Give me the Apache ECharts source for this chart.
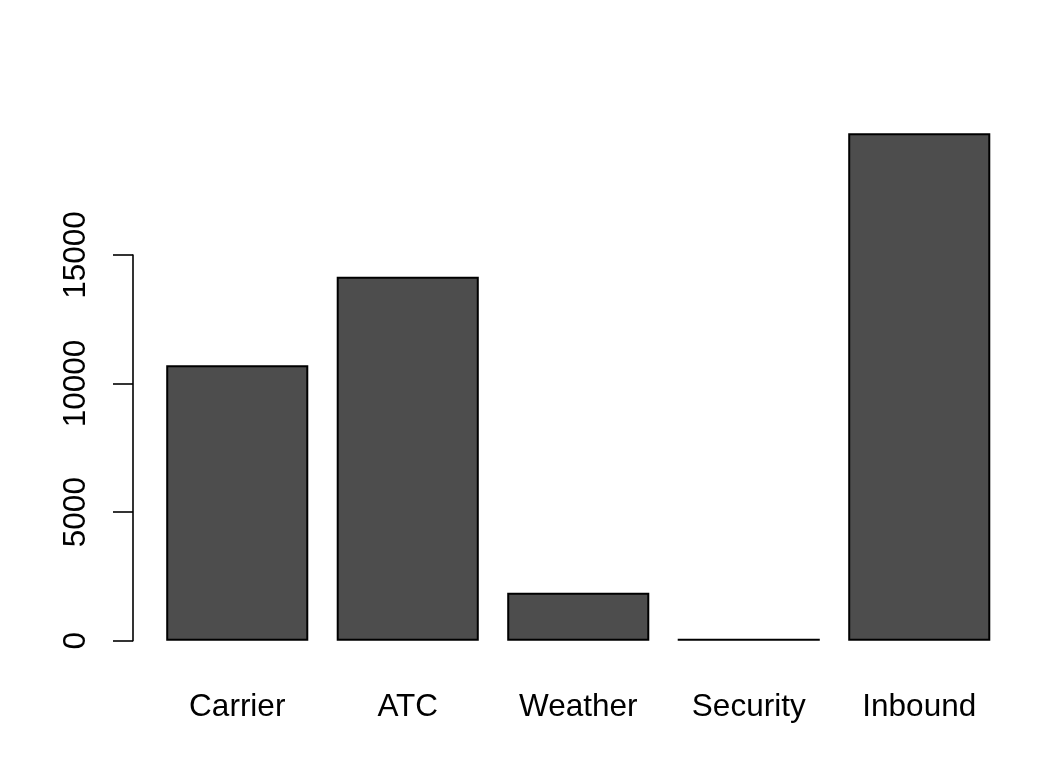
<!DOCTYPE html>
<html>
<head>
<meta charset="utf-8">
<script src="https://cdn.jsdelivr.net/npm/echarts@6/dist/echarts.min.js"></script>
<style>
html,body{margin:0;padding:0;background:#fff;}
#chart{width:1060px;height:766px;}
</style>
</head>
<body>
<div id="chart"></div>
<script>
const categories = ["Carrier", "ATC", "Weather", "Security", "Inbound"];
const delays = [10711, 14156, 1867, 80, 19733];
const yTicks = [0, 5000, 10000, 15000];

const chart = echarts.init(document.getElementById('chart'), null, {renderer: 'canvas'});
const font = '"Liberation Sans", Arial, Helvetica, sans-serif';
chart.setOption({
  backgroundColor: '#ffffff',
  animation: false,
  grid: {left: 152, right: 55.5, top: 255, bottom: 125.3, containLabel: false},
  xAxis: {
    type: 'category',
    data: categories,
    boundaryGap: true,
    axisLine: {show: false},
    axisTick: {show: false},
    axisLabel: {color: '#000', fontFamily: font, fontSize: 31.5, margin: 51}
  },
  yAxis: {
    type: 'value',
    min: yTicks[0],
    max: yTicks[yTicks.length - 1],
    interval: 5000,
    offset: 19,
    splitLine: {show: false},
    axisLine: {show: true, lineStyle: {color: '#000', width: 1.6}},
    axisTick: {show: true, inside: false, length: 20, lineStyle: {color: '#000', width: 1.6}},
    axisLabel: {color: '#000', fontFamily: font, fontSize: 31.5, rotate: 90, margin: 41,
      formatter: function (v) { return String(v); }}
  },
  series: [{
    type: 'bar',
    data: delays,
    clip: false,
    barCategoryGap: '16.67%',
    itemStyle: {color: '#4D4D4D', borderColor: '#000', borderWidth: 2}
  }]
});
</script>
</body>
</html>
